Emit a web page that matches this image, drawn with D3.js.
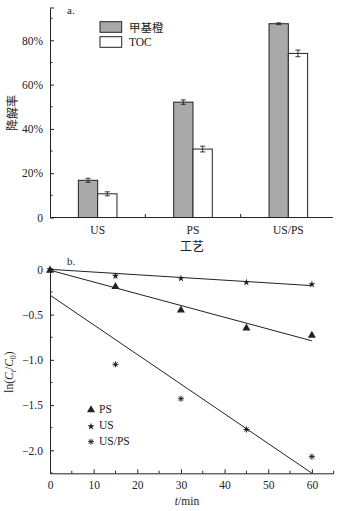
<!DOCTYPE html>
<html><head><meta charset="utf-8">
<script src="https://cdn.jsdelivr.net/npm/d3@7"></script>
<style>body{margin:0;background:#fff}svg{display:block}text{font-family:"Liberation Serif","Times New Roman",serif;fill:#222}</style>
</head><body><svg id="c" width="340" height="511"></svg>
<script>
// ---- data: panel a ----
const processes = ["US", "PS", "US/PS"];
const seriesNames = ["甲基橙", "TOC"];
const moRemoval = [16.8, 52.1, 87.5];
const moErr = [0.9, 1.0, 0.4];
const tocRemoval = [10.7, 30.9, 74.1];
const tocErr = [0.9, 1.3, 1.5];
const yTicksA = [0, 20, 40, 60, 80];
// ---- data: panel b ----
const times = [0, 15, 30, 45, 60];
const lnPS = [0, -0.18, -0.44, -0.64, -0.72];
const lnUS = [0, -0.074, -0.10, -0.144, -0.166];
const lnUSPS = [0, -1.05, -1.43, -1.77, -2.07];
const fitNames = ["PS", "US", "US/PS"];
const fitIntercept = [-0.01, 0, -0.285];
const fitSlope = [-0.0130, -0.0030, -0.0328];
const xTicksB = [0, 10, 20, 30, 40, 50, 60];
const yTicksB = [0, -0.5, -1.0, -1.5, -2.0];

const svg = d3.select("#c");
const ink = "#222";

// ================= Panel a =================
const xa = d3.scaleBand().domain(processes).range([50, 336]);
const ya = d3.scaleLinear().domain([0, 94.6]).range([217.5, 8]);
const ga = svg.append("g");

const bw = 19.3;
const barData = [];
processes.forEach((p, i) => {
  barData.push({p, s: 0, v: moRemoval[i], e: moErr[i]});
  barData.push({p, s: 1, v: tocRemoval[i], e: tocErr[i]});
});
const cx = p => xa(p) + xa.bandwidth() / 2;
ga.selectAll("rect.bar").data(barData).enter().append("rect")
  .attr("x", d => cx(d.p) + (d.s === 0 ? -bw : 0))
  .attr("y", d => ya(d.v))
  .attr("width", bw)
  .attr("height", d => ya(0) - ya(d.v))
  .attr("fill", d => d.s === 0 ? "#a9a9a9" : "#fff")
  .attr("stroke", ink).attr("stroke-width", 1);
const eb = ga.selectAll("g.eb").data(barData).enter().append("g")
  .attr("stroke", ink).attr("stroke-width", 0.9);
eb.append("line")
  .attr("x1", d => cx(d.p) + (d.s === 0 ? -bw / 2 : bw / 2))
  .attr("x2", d => cx(d.p) + (d.s === 0 ? -bw / 2 : bw / 2))
  .attr("y1", d => ya(d.v + d.e)).attr("y2", d => ya(d.v - d.e));
[1, -1].forEach(sg => {
  eb.append("line")
    .attr("x1", d => cx(d.p) + (d.s === 0 ? -bw / 2 : bw / 2) - 2.5)
    .attr("x2", d => cx(d.p) + (d.s === 0 ? -bw / 2 : bw / 2) + 2.5)
    .attr("y1", d => ya(d.v + sg * d.e)).attr("y2", d => ya(d.v + sg * d.e));
});

const yAxA = d3.axisLeft(ya).tickValues(yTicksA)
  .tickFormat(d => d === 0 ? "0" : d + "%").tickSizeInner(-4).tickSizeOuter(0).tickPadding(7);
const gya = ga.append("g").attr("transform", "translate(50,0)").call(yAxA).attr("font-family", null);
gya.selectAll("text").attr("font-size", 11.5);
ga.append("g").attr("transform", "translate(50,0)")
  .selectAll("line").data([10, 30, 50, 70, 90]).enter().append("line")
  .attr("x1", 0).attr("x2", 2.5).attr("y1", d => ya(d)).attr("y2", d => ya(d)).attr("stroke", ink);
ga.append("line").attr("x1", 50).attr("x2", 54).attr("y1", ya(94.6)).attr("y2", ya(94.6)).attr("stroke", ink);
const xAxA = d3.axisBottom(xa).tickSize(0).tickSizeOuter(0).tickPadding(8);
const gxa = ga.append("g").attr("transform", "translate(0,217.5)").call(xAxA).attr("font-family", null);
gxa.selectAll("text").attr("font-size", 11.5);
gxa.select(".domain").attr("d", "M50,0H333");
ga.selectAll("line.xt").data(processes.slice(1)).enter().append("line")
  .attr("x1", d => xa(d)).attr("x2", d => xa(d)).attr("y1", 217.5).attr("y2", 214).attr("stroke", ink);
svg.selectAll(".domain").attr("stroke", ink);
svg.selectAll(".tick line").attr("stroke", ink);

ga.append("text").attr("x", 67).attr("y", 14).attr("font-size", 11).text("a.");
ga.append("text").attr("transform", "translate(11,113) rotate(-90)").attr("text-anchor", "middle")
  .attr("dominant-baseline", "central")
  .style("font-family", "'Noto Sans CJK SC'").attr("font-size", 12).text("降解率");
ga.append("text").attr("x", 192).attr("y", 251).attr("text-anchor", "middle")
  .style("font-family", "'Noto Sans CJK SC'").attr("font-size", 12).text("工艺");
const lg = ga.append("g");
seriesNames.forEach((n, i) => {
  lg.append("rect").attr("x", 100).attr("y", 21.7 + i * 15).attr("width", 21.7).attr("height", 10.6)
    .attr("fill", i === 0 ? "#a9a9a9" : "#fff").attr("stroke", ink);
  lg.append("text").attr("x", 129).attr("y", 27 + i * 15).attr("dominant-baseline", "central")
    .style("font-family", i === 0 ? "'Noto Sans CJK SC'" : null)
    .attr("font-size", 11.5).text(n);
});

// ================= Panel b =================
const xb = d3.scaleLinear().domain([0, 65]).range([50, 333.7]);
const yb = d3.scaleLinear().domain([-2.254, 0.018]).range([473.3, 267.7]);
const gb = svg.append("g");

const yAxB = d3.axisLeft(yb).tickValues(yTicksB)
  .tickFormat(d => d === 0 ? "0" : d3.format(".1f")(d).replace("-", "\u2212"))
  .tickSizeInner(-4).tickSizeOuter(0).tickPadding(7);
const gyb = gb.append("g").attr("transform", "translate(50,0)").call(yAxB).attr("font-family", null);
gyb.selectAll("text").attr("font-size", 11.5);
gb.append("g").selectAll("line").data([-0.25, -0.75, -1.25, -1.75, -2.25]).enter()
  .append("line").attr("x1", 50).attr("x2", 52.5).attr("y1", d => yb(d)).attr("y2", d => yb(d)).attr("stroke", ink);

const xAxB = d3.axisBottom(xb).tickValues(xTicksB).tickSizeInner(-4).tickSizeOuter(0).tickPadding(8);
const gxb = gb.append("g").attr("transform", "translate(0,473.3)").call(xAxB).attr("font-family", null);
gxb.selectAll("text").attr("font-size", 11.5);
gb.append("g").selectAll("line").data([5, 15, 25, 35, 45, 55, 65]).enter()
  .append("line").attr("x1", d => xb(d)).attr("x2", d => xb(d)).attr("y1", 473.3).attr("y2", 470.8).attr("stroke", ink);
gb.selectAll(".domain").attr("stroke", ink);
gb.selectAll(".tick line").attr("stroke", ink);

fitNames.forEach((n, i) => {
  gb.append("line")
    .attr("x1", xb(0)).attr("y1", yb(fitIntercept[i]))
    .attr("x2", xb(60)).attr("y2", yb(fitIntercept[i] + fitSlope[i] * 60))
    .attr("stroke", ink).attr("stroke-width", 1);
});

const triSym = d3.symbol().type(d3.symbolTriangle).size(28);
const starSym = d3.symbol().type(d3.symbolStar).size(16);
function asterisk(g, x, y, r) {
  const a = g.append("g").attr("transform", `translate(${x},${y})`).attr("stroke", ink).attr("stroke-width", 1);
  [0, 45, 90, 135].forEach(ang => {
    const rad = ang * Math.PI / 180;
    a.append("line").attr("x1", -r * Math.cos(rad)).attr("y1", -r * Math.sin(rad))
      .attr("x2", r * Math.cos(rad)).attr("y2", r * Math.sin(rad));
  });
}
times.forEach((t, i) => {
  gb.append("path").attr("d", triSym()).attr("transform", `translate(${xb(t)},${yb(lnPS[i]) + 1})`).attr("fill", ink);
  gb.append("path").attr("d", starSym()).attr("transform", `translate(${xb(t)},${yb(lnUS[i])})`).attr("fill", ink);
  if (i > 0) asterisk(gb, xb(t), yb(lnUSPS[i]), 3);
});

const lgb = gb.append("g");
lgb.append("path").attr("d", triSym()).attr("transform", "translate(91,410)").attr("fill", ink);
lgb.append("path").attr("d", starSym()).attr("transform", "translate(91,426.5)").attr("fill", ink);
asterisk(lgb, 91, 441.7, 3);
["PS", "US", "US/PS"].forEach((n, i) => {
  lgb.append("text").attr("x", 99).attr("y", 409 + i * 16).attr("dominant-baseline", "central")
    .attr("font-size", 11.5).text(n);
});

gb.append("text").attr("x", 67).attr("y", 265).attr("font-size", 11).text("b.");
const yl = gb.append("text").attr("transform", "translate(13,372) rotate(-90)").attr("text-anchor", "middle")
  .attr("font-size", 11.5);
yl.append("tspan").text("ln(");
yl.append("tspan").attr("font-style", "italic").text("C");
yl.append("tspan").attr("font-size", 8).attr("dy", 2.5).attr("font-style", "italic").text("t");
yl.append("tspan").attr("dy", -2.5).text("/");
yl.append("tspan").attr("font-style", "italic").text("C");
yl.append("tspan").attr("font-size", 8).attr("dy", 2.5).text("0");
yl.append("tspan").attr("dy", -2.5).text(")");
const xl = gb.append("text").attr("x", 187).attr("y", 505).attr("text-anchor", "middle").attr("font-size", 11.5);
xl.append("tspan").attr("font-style", "italic").text("t");
xl.append("tspan").text("/min");
</script></body></html>
